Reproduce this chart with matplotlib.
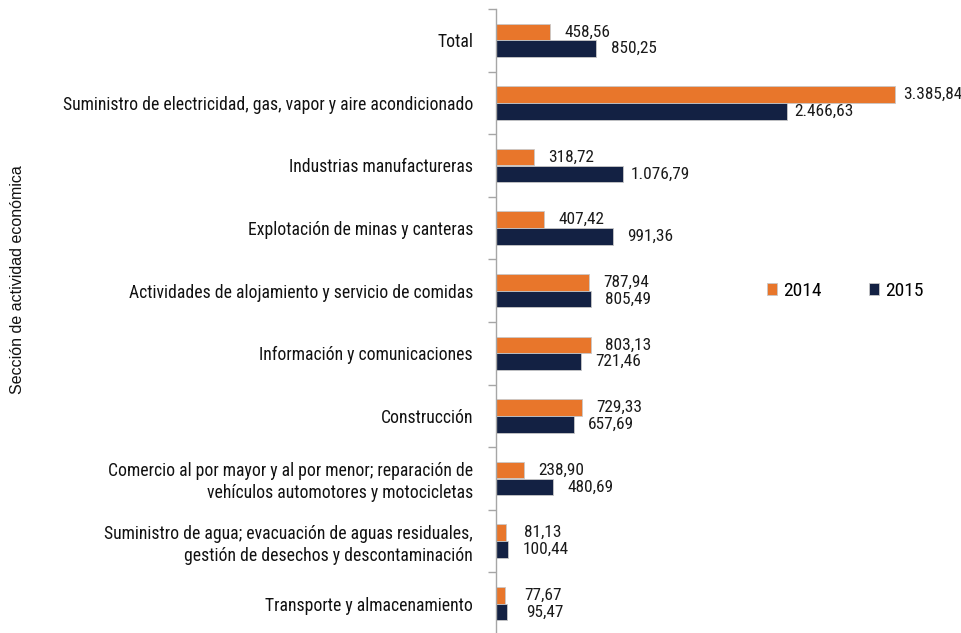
import matplotlib
matplotlib.use("Agg")
import matplotlib.pyplot as plt
import numpy as np

categories = [
    "Total",
    "Suministro de electricidad, gas, vapor y aire acondicionado",
    "Industrias manufactureras",
    "Explotación de minas y canteras",
    "Actividades de alojamiento y servicio de comidas",
    "Información y comunicaciones",
    "Construcción",
    "Comercio al por mayor y al por menor; reparación de\nvehículos automotores y motocicletas",
    "Suministro de agua; evacuación de aguas residuales,\ngestión de desechos y descontaminación",
    "Transporte y almacenamiento",
]
values_2014 = [458.56, 3385.84, 318.72, 407.42, 787.94, 803.13, 729.33, 238.90, 81.13, 77.67]
values_2015 = [850.25, 2466.63, 1076.79, 991.36, 805.49, 721.46, 657.69, 480.69, 100.44, 95.47]
series_labels = ["2014", "2015"]
ylabel = "Sección de actividad económica"

c14 = "#E8762B"
c15 = "#132143"
narrow = ["Roboto Condensed", "DejaVu Sans"]

def fmt(v):
    s = f"{v:,.2f}"
    return s.replace(",", "X").replace(".", ",").replace("X", ".")

W, H = 962, 633
fig = plt.figure(figsize=(W / 100, H / 100), dpi=100)
ax_left = 496 / W
ax_top = 9
ax_bot = 635
ax = fig.add_axes([ax_left, (H - ax_bot) / H, 1 - ax_left, (ax_bot - ax_top) / H])

y = np.arange(len(categories))
h = 0.265
off = 0.135
b1 = ax.barh(y - off, values_2014, height=h, color=c14, edgecolor="#C8C8C8", linewidth=0.6, label=series_labels[0])
b2 = ax.barh(y + off, values_2015, height=h, color=c15, edgecolor="#C8C8C8", linewidth=0.6, label=series_labels[1])

for bars, vals in ((b1, values_2014), (b2, values_2015)):
    for rect, v in zip(bars, vals):
        ax.annotate(fmt(v), xy=(rect.get_width(), rect.get_y() + rect.get_height() / 2),
                    xytext=(27, 0), textcoords="offset points", ha="center", va="center",
                    fontsize=12.4, family=narrow, color="#1a1a1a")

ax.set_xlim(0, 466 / (399 / 3385.84))
ax.set_ylim(len(categories) - 0.5, -0.5)

for s in ["top", "right", "bottom"]:
    ax.spines[s].set_visible(False)
ax.spines["left"].set_color("#A6A6A6")
ax.spines["left"].set_linewidth(1.0)
ax.set_xticks([])
ax.set_yticks(y)
ax.set_yticklabels(categories, fontsize=12.7, family=narrow, color="#111111", ha="right", linespacing=1.25)
ax.tick_params(axis="y", which="major", length=0, pad=16.5)
ax.set_yticks(np.arange(-0.5, len(categories), 1.0), minor=True)
ax.tick_params(axis="y", which="minor", length=6, color="#A6A6A6", width=1.0)

fig.text(18 / W, 1 - 280 / H, ylabel, rotation=90, ha="center", va="center",
         fontsize=11.5, family=["Liberation Sans", "DejaVu Sans"], color="#111111")

leg = ax.legend(loc="center left",
                bbox_to_anchor=((767 - 496) / (W - 496), (ax_bot - 291) / (ax_bot - ax_top)),
                frameon=False, ncol=2, prop={"family": narrow, "size": 14},
                handlelength=0.52, handleheight=0.52, columnspacing=2.45, handletextpad=0.3,
                borderaxespad=0, borderpad=0)

fig.savefig("out.png", dpi=100)
